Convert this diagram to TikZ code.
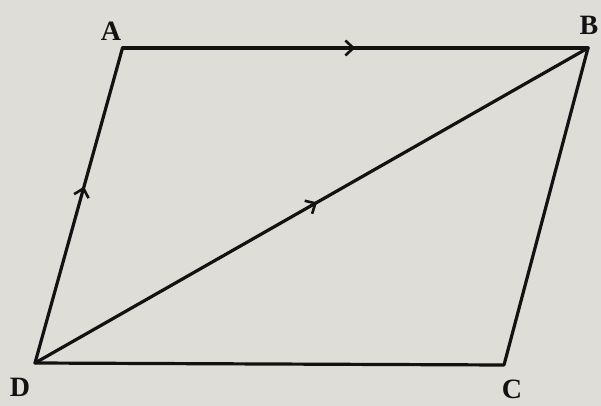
\documentclass[tikz,border=0pt]{standalone}
\usepackage{fontspec}
\setmainfont{Liberation Serif}
\usetikzlibrary{arrows.meta,decorations.markings}
\definecolor{paper}{RGB}{222,221,215}
\definecolor{ink}{RGB}{18,18,18}
\tikzset{
  edge/.style={draw=ink,line width=3.2pt,line cap=round,line join=round},
  midarrow/.style={postaction={decorate,decoration={markings,
     mark=at position #1 with {\arrow{Straight Barb[length=8pt,width=15pt,line width=2.6pt]}}}}},
  vlabel/.style={text=ink,font=\fontsize{28}{30}\selectfont\bfseries,inner sep=0pt}
}
\begin{document}
\begin{tikzpicture}[x=1pt,y=-1pt]
\fill[paper] (0,0) rectangle (601,406);
\useasboundingbox (0,0) rectangle (601,406);
\coordinate (A) at (122.5,48);
\coordinate (B) at (588,48);
\coordinate (C) at (504,365);
\coordinate (D) at (35,363);
\node[vlabel] (lA) at (111,31) {A};
\node[vlabel] (lB) at (589,25) {B};
\node[vlabel] (lC) at (512,389) {C};
\node[vlabel] (lD) at (20,387) {D};
\draw[edge,midarrow=0.5] (A) -- (B);
\draw[edge] (B) -- (C) -- (D);
\draw[edge,midarrow=0.56] (D) -- (A);
\draw[edge,midarrow=0.51] (D) -- (B);
\end{tikzpicture}
\end{document}
